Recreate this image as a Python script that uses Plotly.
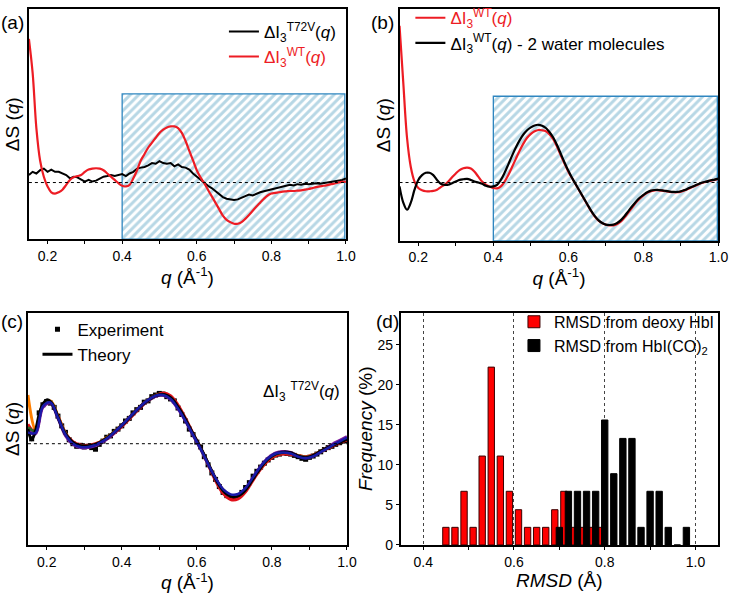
import plotly.graph_objects as go

# ---- data -------------------------------------------------------------
q_fine = [round(0.15 + 0.01 * i, 2) for i in range(86)]

# (a)
a_wt = [4.43, 3.38, 1.68, 0.68, 0.18, -0.12, -0.30, -0.34, -0.30, -0.22,
        -0.07, 0.08, 0.16, 0.20, 0.23, 0.33, 0.40, 0.43, 0.44, 0.43,
        0.38, 0.28, 0.18, 0.08, -0.02, -0.10, -0.12, -0.07, 0.13, 0.38,
        0.68, 0.88, 1.08, 1.23, 1.38, 1.53, 1.63, 1.70, 1.73, 1.73,
        1.68, 1.53, 1.28, 0.98, 0.68, 0.38, 0.16, -0.02, -0.22, -0.42,
        -0.62, -0.82, -1.02, -1.15, -1.22, -1.27, -1.27, -1.22, -1.12, -1.00,
        -0.87, -0.74, -0.62, -0.50, -0.40, -0.34, -0.32, -0.30, -0.28, -0.27,
        -0.26, -0.26, -0.25, -0.24, -0.22, -0.20, -0.17, -0.14, -0.12, -0.10,
        -0.08, -0.05, -0.03, 0.00, 0.02, 0.03]
a_t72v = [0.23, 0.33, 0.28, 0.38, 0.43, 0.33, 0.40, 0.33, 0.33, 0.28,
          0.23, 0.13, 0.18, 0.16, 0.10, 0.03, 0.08, 0.03, 0.06, 0.13,
          0.18, 0.20, 0.23, 0.20, 0.23, 0.26, 0.20, 0.28, 0.33, 0.43,
          0.46, 0.48, 0.53, 0.60, 0.58, 0.66, 0.60, 0.58, 0.60, 0.50,
          0.56, 0.48, 0.46, 0.40, 0.28, 0.18, 0.08, -0.02, -0.10, -0.17,
          -0.27, -0.37, -0.45, -0.50, -0.52, -0.54, -0.52, -0.47, -0.42, -0.37,
          -0.40, -0.34, -0.30, -0.27, -0.24, -0.20, -0.17, -0.15, -0.12, -0.10,
          -0.07, -0.09, -0.05, -0.07, -0.04, -0.05, -0.04, -0.02, -0.04, -0.02,
          0.00, 0.03, 0.03, 0.06, 0.08, 0.13]

# (b)
b_wt = [4.83, 3.08, 1.38, 0.48, 0.03, -0.17, -0.24, -0.27, -0.27, -0.26,
        -0.22, -0.14, -0.07, 0.03, 0.16, 0.28, 0.38, 0.44, 0.46, 0.43,
        0.33, 0.18, 0.03, -0.07, -0.12, -0.17, -0.18, -0.12, 0.03, 0.23,
        0.48, 0.73, 0.98, 1.20, 1.38, 1.50, 1.58, 1.62, 1.61, 1.58,
        1.48, 1.33, 1.10, 0.83, 0.58, 0.33, 0.13, -0.07, -0.27, -0.47,
        -0.67, -0.87, -1.04, -1.17, -1.25, -1.30, -1.32, -1.32, -1.28, -1.20,
        -1.07, -0.92, -0.77, -0.62, -0.50, -0.40, -0.32, -0.27, -0.24, -0.24,
        -0.25, -0.27, -0.29, -0.30, -0.30, -0.28, -0.24, -0.19, -0.14, -0.09,
        -0.04, 0.00, 0.03, 0.06, 0.08, 0.11]
b_wt_water = [-0.12, -0.62, -0.84, -0.62, -0.22, 0.08, 0.23, 0.30, 0.30, 0.23,
              0.08, -0.04, -0.07, -0.07, -0.02, 0.03, 0.08, 0.10, 0.11, 0.08,
              0.03, 0.00, -0.04, -0.10, -0.13, -0.12, -0.07, 0.08, 0.30, 0.56,
              0.83, 1.08, 1.30, 1.48, 1.61, 1.70, 1.76, 1.78, 1.75, 1.68,
              1.55, 1.38, 1.15, 0.88, 0.61, 0.36, 0.14, -0.06, -0.26, -0.46,
              -0.66, -0.86, -1.03, -1.16, -1.25, -1.30, -1.31, -1.30, -1.25, -1.16,
              -1.03, -0.88, -0.73, -0.59, -0.47, -0.38, -0.30, -0.25, -0.23, -0.23,
              -0.24, -0.26, -0.28, -0.29, -0.29, -0.27, -0.23, -0.18, -0.13, -0.08,
              -0.03, 0.01, 0.04, 0.07, 0.09, 0.12]

# (c)
c_exp = [0.40, 0.15, 0.45, 0.95, 1.20, 1.30, 1.25, 1.12, 0.85, 0.55,
         0.35, 0.12, 0.00, -0.08, -0.05, -0.10, -0.08, -0.12, -0.17, -0.02,
         0.08, 0.20, 0.24, 0.38, 0.45, 0.55, 0.70, 0.78, 0.95, 1.05,
         1.12, 1.28, 1.32, 1.45, 1.50, 1.55, 1.53, 1.45, 1.38, 1.32,
         1.10, 0.90, 0.70, 0.45, 0.28, 0.05, -0.10, -0.40, -0.65, -0.90,
         -1.10, -1.32, -1.50, -1.60, -1.65, -1.68, -1.62, -1.50, -1.35, -1.20,
         -1.00, -0.85, -0.72, -0.60, -0.50, -0.42, -0.35, -0.32, -0.28, -0.30,
         -0.32, -0.36, -0.40, -0.45, -0.48, -0.42, -0.38, -0.32, -0.25, -0.18,
         -0.12, -0.08, -0.02, 0.03, 0.08, 0.10]
c_theory = [0.45, 0.12, 0.40, 0.90, 1.22, 1.35, 1.30, 1.10, 0.82, 0.52,
            0.30, 0.15, 0.04, -0.03, -0.06, -0.07, -0.07, -0.05, -0.02, 0.03,
            0.10, 0.17, 0.26, 0.36, 0.46, 0.57, 0.68, 0.80, 0.92, 1.04,
            1.15, 1.25, 1.34, 1.42, 1.48, 1.51, 1.52, 1.49, 1.42, 1.30,
            1.13, 0.95, 0.74, 0.52, 0.30, 0.09, -0.12, -0.35, -0.60, -0.85,
            -1.08, -1.28, -1.44, -1.55, -1.61, -1.63, -1.61, -1.54, -1.42, -1.26,
            -1.08, -0.90, -0.74, -0.59, -0.47, -0.38, -0.31, -0.28, -0.26, -0.26,
            -0.28, -0.33, -0.38, -0.42, -0.43, -0.41, -0.36, -0.30, -0.23, -0.17,
            -0.11, -0.06, -0.01, 0.04, 0.09, 0.14]

q_coarse = [round(0.15 + 0.02 * i, 2) for i in range(43)] + [1.00]
c_theory_red = [0.60, 0.35, 1.18, 1.28, 0.85, 0.33, 0.06, -0.04, -0.05, 0.00,
                0.09, 0.23, 0.42, 0.64, 0.88, 1.12, 1.32, 1.47, 1.56, 1.48,
                1.19, 0.78, 0.31, -0.13, -0.64, -1.14, -1.53, -1.72, -1.70, -1.48,
                -1.12, -0.78, -0.52, -0.37, -0.32, -0.33, -0.37, -0.40, -0.35, -0.25,
                -0.14, -0.03, 0.07, 0.12]
c_theory_orange = [1.50, 0.42, 1.20, 1.32, 0.86, 0.32, 0.02, -0.08, -0.06, -0.01,
                   0.11, 0.27, 0.47, 0.69, 0.93, 1.16, 1.35, 1.49, 1.53, 1.44,
                   1.14, 0.73, 0.29, -0.14, -0.61, -1.07, -1.42, -1.59, -1.58, -1.40,
                   -1.08, -0.76, -0.50, -0.35, -0.29, -0.30, -0.36, -0.40, -0.35, -0.23,
                   -0.11, 0.00, 0.10, 0.12]
c_theory_green = [0.50, 0.38, 1.19, 1.29, 0.83, 0.31, 0.03, -0.07, -0.08, -0.03,
                  0.09, 0.25, 0.45, 0.67, 0.91, 1.14, 1.33, 1.47, 1.51, 1.41,
                  1.11, 0.72, 0.28, -0.15, -0.62, -1.08, -1.44, -1.60, -1.59, -1.40,
                  -1.06, -0.73, -0.47, -0.32, -0.27, -0.29, -0.37, -0.42, -0.37, -0.25,
                  -0.12, 0.00, 0.11, 0.16]
c_theory_purple = [0.40, 0.30, 1.12, 1.25, 0.78, 0.25, -0.02, -0.12, -0.12, -0.06,
                   0.06, 0.23, 0.44, 0.67, 0.91, 1.14, 1.33, 1.46, 1.49, 1.37,
                   1.07, 0.69, 0.26, -0.16, -0.63, -1.08, -1.43, -1.60, -1.58, -1.38,
                   -1.04, -0.70, -0.44, -0.28, -0.24, -0.27, -0.38, -0.44, -0.38, -0.25,
                   -0.10, 0.04, 0.16, 0.22]
c_theory_blue = [0.35, 0.33, 1.15, 1.27, 0.80, 0.28, 0.00, -0.10, -0.10, -0.04,
                 0.08, 0.25, 0.46, 0.69, 0.93, 1.16, 1.35, 1.48, 1.50, 1.38,
                 1.08, 0.70, 0.27, -0.15, -0.62, -1.06, -1.40, -1.56, -1.55, -1.36,
                 -1.03, -0.70, -0.45, -0.30, -0.27, -0.30, -0.40, -0.45, -0.39, -0.26,
                 -0.13, 0.01, 0.13, 0.19]

# (d)
red_rmsd = [0.45, 0.47, 0.49, 0.51, 0.53, 0.55, 0.57, 0.59, 0.61, 0.63,
            0.65, 0.67, 0.69, 0.71, 0.73, 0.75, 0.77, 0.79]
red_freq = [2.2, 2.2, 6.7, 2.2, 11.1, 22.2, 11.1, 6.7, 4.4, 2.2,
            2.2, 2.2, 4.4, 6.7, 2.2, 2.2, 2.2, 2.2]
black_rmsd = [0.70, 0.72, 0.74, 0.76, 0.78, 0.80, 0.82, 0.84, 0.86, 0.88,
              0.90, 0.92, 0.94, 0.96, 0.98]
black_freq = [2.2, 6.7, 6.7, 6.7, 6.7, 15.6, 8.9, 13.3, 13.3, 2.2,
              6.7, 6.7, 2.2, 0.0, 2.2]

# ---- style ------------------------------------------------------------
RED = "#ed1c24"
FONT = "Liberation Sans, Arial, sans-serif"
HATCH_Q = (0.4, 0.997)
A_RANGE = [-1.745, 5.335]
B_RANGE = [-1.80, 5.335]
C_RANGE = [-3.12, 4.03]
A_HATCH_TOP = 2.73
B_HATCH_TOP = 2.66

fig = go.Figure()


def hatch(xa, ya, bottom, top):
    q0, q1 = HATCH_Q
    fig.add_trace(go.Scatter(
        x=[q0, q1, q1, q0, q0], y=[bottom, bottom, top, top, bottom],
        mode="lines", fill="toself", fillcolor="rgba(0,0,0,0)",
        fillpattern=dict(shape="/", size=6, solidity=0.5,
                         fgcolor="#6fb0cb", bgcolor="white"),
        line=dict(color="#2f86c0", width=1.3),
        xaxis=xa, yaxis=ya, showlegend=False, hoverinfo="skip"))


# (a)
hatch("x", "y", A_RANGE[0], A_HATCH_TOP)
fig.add_trace(go.Scatter(x=q_fine, y=a_t72v, mode="lines",
                         line=dict(color="black", width=2),
                         name="ΔI<sub>3</sub><sup>T72V</sup>(<i>q</i>)",
                         xaxis="x", yaxis="y", legend="legend"))
fig.add_trace(go.Scatter(x=q_fine, y=a_wt, mode="lines", line_shape="spline",
                         line=dict(color=RED, width=2.2),
                         name='<span style="color:#ed1c24">ΔI<sub>3</sub><sup>WT</sup>(<i>q</i>)</span>',
                         xaxis="x", yaxis="y", legend="legend"))

# (b)
hatch("x2", "y2", B_RANGE[0], B_HATCH_TOP)
fig.add_trace(go.Scatter(x=q_fine, y=b_wt, mode="lines", line_shape="spline",
                         line=dict(color=RED, width=2.2),
                         name='<span style="color:#ed1c24">ΔI<sub>3</sub><sup>WT</sup>(<i>q</i>)</span>',
                         xaxis="x2", yaxis="y2", legend="legend2"))
fig.add_trace(go.Scatter(x=q_fine, y=b_wt_water, mode="lines", line_shape="spline",
                         line=dict(color="black", width=2.2),
                         name="ΔI<sub>3</sub><sup>WT</sup>(<i>q</i>) - 2 water molecules",
                         xaxis="x2", yaxis="y2", legend="legend2"))

# (c)
fig.add_trace(go.Scatter(x=q_fine, y=c_exp, mode="markers",
                         marker=dict(symbol="square", size=5, color="black"),
                         name="Experiment", xaxis="x3", yaxis="y3", legend="legend3"))
for ys, col in [(c_theory_orange, "#ff7f00"), (c_theory_red, "#e0101a"),
                (c_theory_green, "#2a6a2a"), (c_theory_purple, "#7a1a9a")]:
    fig.add_trace(go.Scatter(x=q_coarse, y=ys, mode="lines", line_shape="spline",
                             line=dict(color=col, width=3), showlegend=False,
                             xaxis="x3", yaxis="y3"))
fig.add_trace(go.Scatter(x=q_fine, y=c_theory, mode="lines", line_shape="spline",
                         line=dict(color="black", width=3), name="Theory",
                         xaxis="x3", yaxis="y3", legend="legend3"))
fig.add_trace(go.Scatter(x=q_coarse, y=c_theory_blue, mode="lines", line_shape="spline",
                         line=dict(color="#1a1aa8", width=2.5), showlegend=False,
                         xaxis="x3", yaxis="y3"))

# (d)
fig.add_trace(go.Bar(x=red_rmsd, y=red_freq, width=0.014, name="RMSD from deoxy HbI",
                     marker=dict(color="#ff0000", line=dict(color="#3a0000", width=1)),
                     xaxis="x4", yaxis="y4", legend="legend4"))
fig.add_trace(go.Bar(x=black_rmsd, y=black_freq, width=0.014,
                     name="RMSD from HbI(CO)<sub>2</sub>",
                     marker=dict(color="black", line=dict(color="black", width=1)),
                     xaxis="x4", yaxis="y4", legend="legend4"))

# ---- layout -----------------------------------------------------------
W, H = 740, 599


def px_x(a, b):
    return [a / W, b / W]


def px_y(top, bottom):
    return [1 - bottom / H, 1 - top / H]


axis_common = dict(showline=True, linecolor="black", linewidth=1.5, mirror=True,
                   showgrid=False, zeroline=False, ticks="outside", ticklen=3,
                   tickcolor="black", tickfont=dict(size=14, color="black"))
q_axis = dict(axis_common, range=[0.15, 1.0], tickvals=[0.2, 0.4, 0.6, 0.8, 1.0],
              ticktext=["0.2", "0.4", "0.6", "0.8", "1.0"],
              minor=dict(tickvals=[0.3, 0.5, 0.7, 0.9], ticks="outside", ticklen=3,
                         tickcolor="black"),
              title=dict(text="<i>q</i> (Å<sup>-1</sup>)", font=dict(size=19), standoff=0))
s_axis = dict(axis_common, showticklabels=False, ticks="",
              title=dict(text="ΔS (<i>q</i>)", font=dict(size=19), standoff=2))

legend_common = dict(bgcolor="rgba(0,0,0,0)", font=dict(size=17, color="black"),
                     xanchor="left", yanchor="top", tracegroupgap=0, itemwidth=30)

fig.update_layout(
    width=W, height=H, margin=dict(l=0, r=0, t=0, b=0),
    paper_bgcolor="white", plot_bgcolor="white",
    font=dict(family=FONT, color="black"),
    barmode="overlay",
    xaxis=dict(q_axis, domain=px_x(29.3, 350.7), anchor="y"),
    yaxis=dict(s_axis, domain=px_y(1.5, 237.5), range=A_RANGE, anchor="x"),
    xaxis2=dict(q_axis, domain=px_x(405, 728.3), anchor="y2"),
    yaxis2=dict(s_axis, domain=px_y(1.5, 239.3), range=B_RANGE, anchor="x2"),
    xaxis3=dict(q_axis, domain=px_x(28.3, 351.7), anchor="y3"),
    yaxis3=dict(s_axis, domain=px_y(313.3, 551.7), range=C_RANGE, anchor="x3"),
    xaxis4=dict(axis_common, domain=px_x(406, 728), anchor="y4", range=[0.35, 1.05],
                tickvals=[0.4, 0.6, 0.8, 1.0], ticktext=["0.4", "0.6", "0.8", "1.0"],
                showgrid=True, gridcolor="#444444", gridwidth=1, griddash="dot",
                minor=dict(tickvals=[0.5, 0.7, 0.9], ticks="outside", ticklen=3,
                           tickcolor="black"),
                title=dict(text="<i>RMSD</i> (Å)", font=dict(size=19), standoff=0)),
    yaxis4=dict(axis_common, domain=px_y(313, 551.7), anchor="x4", range=[0, 29],
                tickvals=[0, 5, 10, 15, 20, 25],
                title=dict(text="<i>Frequency</i> (%)", font=dict(size=19), standoff=0)),
    legend=dict(legend_common, x=227 / W, y=1 - 6 / H),
    legend2=dict(legend_common, x=416 / W, y=1 + 8 / H),
    legend3=dict(legend_common, x=38 / W, y=1 - 312 / H),
    legend4=dict(legend_common, x=521 / W, y=1 - 305 / H, font=dict(size=16)),
)

for xr, yr in [("x", "y"), ("x2", "y2"), ("x3", "y3")]:
    fig.add_shape(type="line", xref=f"{xr} domain", yref=yr, x0=0, x1=1, y0=0, y1=0,
                  line=dict(color="black", width=1, dash="dot"))

labels = [("(a)", 13, 15), ("(b)", 388, 15), ("(c)", 12, 322), ("(d)", 393, 322)]
for txt, x, y in labels:
    fig.add_annotation(text=txt, x=x / W, y=1 - y / H, xref="paper", yref="paper",
                       showarrow=False, font=dict(size=19), xanchor="center",
                       yanchor="middle")

fig.add_annotation(text="ΔI<sub>3</sub> <sup>T72V</sup>(<i>q</i>)", x=306 / W,
                   y=1 - 394 / H, xref="paper", yref="paper", showarrow=False,
                   font=dict(size=17), xanchor="center", yanchor="middle")

# the page body has a default 8px margin; drop it so the figure fills the window
fig.write_html("out.html", config={"displayModeBar": False},
               post_script="document.body.style.margin = '0';")
